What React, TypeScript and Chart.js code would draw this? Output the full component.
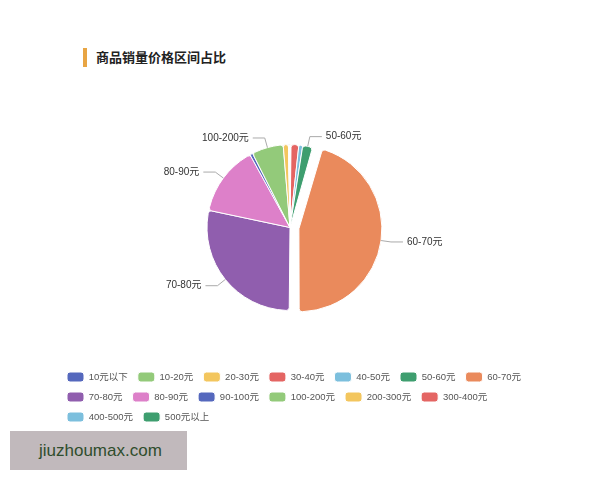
import React, { useRef, useEffect } from "react";
import { Chart, registerables, DoughnutController } from "chart.js";

Chart.register(...registerables);

// price bands and their share of sales (%)
const priceBands = [
  "10元以下", "10-20元", "20-30元", "30-40元", "40-50元", "50-60元", "60-70元",
  "70-80元", "80-90元", "90-100元", "100-200元", "200-300元", "300-400元",
  "400-500元", "500元以上",
];
const salesShare = [0, 0.1, 0.1, 1.5, 0.75, 1.9, 45.5, 28, 13.6, 0.55, 6.1, 1.0, 0.1, 0.1, 0.1];

const palette = [
  "#5568bd", "#93ca7a", "#f3c65e", "#e46563", "#7cbfdd",
  "#3e9e6f", "#ea8a5c", "#905eae", "#dd80c9",
];
const explodedBand = "60-70元";
const labelMinShare = 1.8;

const FONT = '"Liberation Sans", "Noto Sans CJK SC", sans-serif';
const EXPLODE = 36; // chart.js shifts an arc by offset / 4

// chart.js also grows an offset arc's radius, pull it back to the ring radius
const explodeFix = {
  id: "explodeFix",
  beforeDatasetsDraw(chart: any) {
    const meta = chart.getDatasetMeta(0);
    const base = meta.controller.outerRadius;
    meta.data.forEach((arc: any) => {
      const off = (arc.options.offset || 0) / 4;
      if (!off) return;
      const fix = 1 - Math.sin(Math.min(Math.PI, arc.circumference || 0));
      arc.outerRadius = base - off * fix;
    });
  },
};

// outside labels with leader lines
const sliceLabels = {
  id: "sliceLabels",
  afterDatasetsDraw(chart: any) {
    const { ctx } = chart;
    const meta = chart.getDatasetMeta(0);
    const base = meta.controller.outerRadius;
    ctx.save();
    ctx.font = `10px ${FONT}`;
    ctx.textBaseline = "middle";
    meta.data.forEach((arc: any, i: number) => {
      if (salesShare[i] < labelMinShare) return;
      const mid = (arc.startAngle + arc.endAngle) / 2;
      const shift = (arc.options.offset || 0) / 4;
      const cos = Math.cos(mid);
      const sin = Math.sin(mid);
      const cx = arc.x + cos * shift;
      const cy = arc.y + sin * shift;
      const x0 = cx + cos * base;
      const y0 = cy + sin * base;
      const x1 = cx + cos * (base + 10);
      const y1 = cy + sin * (base + 10);
      const dir = cos >= 0 ? 1 : -1;
      const x2 = x1 + dir * 12;
      ctx.strokeStyle = "#aaaaaa";
      ctx.lineWidth = 1;
      ctx.beginPath();
      ctx.moveTo(x0, y0);
      ctx.lineTo(x1, y1);
      ctx.lineTo(x2, y1);
      ctx.stroke();
      ctx.fillStyle = "#333";
      ctx.textAlign = dir > 0 ? "left" : "right";
      ctx.fillText(priceBands[i], x2 + dir * 4, y1);
    });
    ctx.restore();
  },
};

const PriceBandPie: React.FC = () => {
  const canvasRef = useRef<HTMLCanvasElement | null>(null);

  useEffect(() => {
    if (!canvasRef.current) return;
    const baseLabels = (DoughnutController as any).overrides.plugins.legend.labels.generateLabels;

    const chart = new Chart(canvasRef.current, {
      type: "pie",
      data: {
        labels: priceBands,
        datasets: [
          {
            data: salesShare,
            backgroundColor: priceBands.map((_, i) => palette[i % palette.length]),
            borderColor: "#fff",
            borderWidth: 1,
            borderRadius: 3,
            radius: 83,
            hoverOffset: 0,
            offset: (c: any) => (priceBands[c.dataIndex] === explodedBand ? EXPLODE : 0),
          } as any,
        ],
      },
      options: {
        responsive: false,
        animation: false,
        layout: { padding: { left: 57, right: 48, top: 93, bottom: 48 } },
        plugins: {
          tooltip: { enabled: false },
          // blank spacer on the right so the pie sits left of the legend centre
          title: {
            display: true,
            position: "right",
            text: " ",
            font: { size: 10, lineHeight: 1.2 },
            padding: { top: 8.5, bottom: 8.5 },
          },
          legend: {
            position: "bottom",
            align: "start",
            labels: {
              boxWidth: 17,
              boxHeight: 10,
              padding: 10,
              color: "#555",
              font: { size: 9.5, family: FONT },
              generateLabels: (ch: any) =>
                baseLabels(ch).map((l: any) => ({ ...l, borderRadius: 3 })),
            },
          },
        },
      },
      plugins: [explodeFix, sliceLabels],
    });

    return () => chart.destroy();
  }, []);

  return <canvas ref={canvasRef} width={600} height={480} />;
};

export default function App() {
  return (
    <div
      style={{
        position: "absolute",
        left: 0,
        top: 0,
        width: 600,
        height: 480,
        background: "#fff",
        fontFamily: FONT,
      }}
    >
      <div style={{ position: "absolute", left: 83, top: 48, width: 4, height: 19, background: "#e8a544" }} />
      <div
        style={{
          position: "absolute",
          left: 96,
          top: 47,
          height: 19,
          lineHeight: "19px",
          fontSize: 13,
          fontWeight: 700,
          color: "#222",
          fontFamily: '"Noto Sans CJK SC", sans-serif',
        }}
      >
        商品销量价格区间占比
      </div>
      <div style={{ position: "absolute", left: 0, top: 0 }}>
        <PriceBandPie />
      </div>
      <div
        style={{
          position: "absolute",
          left: 10,
          top: 431,
          width: 177,
          height: 39,
          background: "#c1b9bc",
          color: "#2f4d2c",
          fontSize: 17,
          lineHeight: "39px",
          paddingLeft: 29,
          boxSizing: "border-box",
        }}
      >
        jiuzhoumax.com
      </div>
    </div>
  );
}
